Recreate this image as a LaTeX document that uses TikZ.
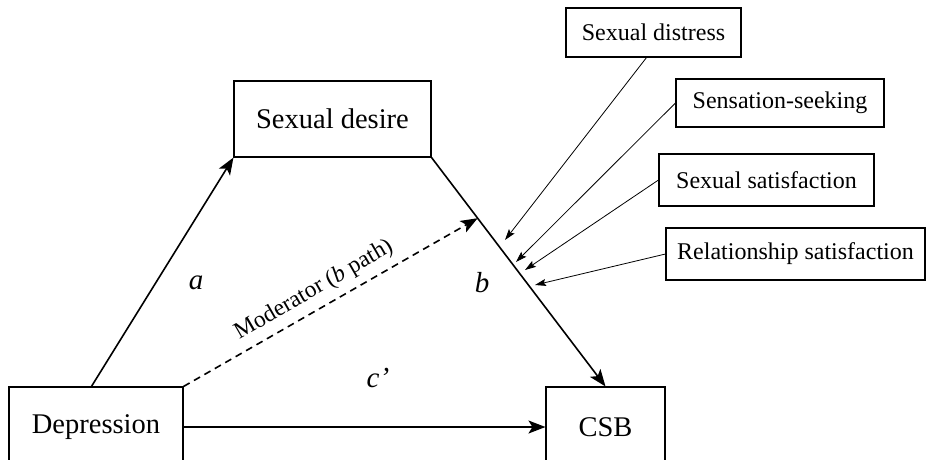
\documentclass[tikz,border=0pt]{standalone}
\usepackage{fontspec}
\setmainfont{Liberation Serif}
\usetikzlibrary{arrows.meta,calc}
\begin{document}
\begin{tikzpicture}[x=1pt,y=-1pt,
  bigbox/.style={draw,line width=1.1pt,inner sep=0pt,font=\fontsize{28.5}{30}\selectfont},
  smallbox/.style={draw,line width=1.1pt,inner sep=0pt,font=\fontsize{24}{26}\selectfont},
  mainarrow/.style={line width=1.6pt,-{Stealth[length=17pt,width=13pt,inset=4pt]}},
  modarrow/.style={line width=0.8pt,-{Stealth[length=11pt,width=7pt,inset=2pt]}},
  lbl/.style={font=\fontsize{29}{30}\selectfont\itshape}]
\clip (0,0) rectangle (928,459);
\fill[white] (0,0) rectangle (928,459);
% main boxes
\node[bigbox,minimum width=174pt,minimum height=80pt] (dep) at (96,427) {Depression};
\node[bigbox,minimum width=119pt,minimum height=80pt] (csb) at (605.5,427) {CSB};
\node[bigbox,minimum width=197pt,minimum height=76pt] (des) at (332.5,119) {Sexual desire};
% moderator boxes
\node[smallbox,minimum width=175pt,minimum height=49pt] (sdis) at (653.5,32.5) {Sexual distress};
\node[smallbox,minimum width=208pt,minimum height=48pt] (sens) at (780,103) {Sensation-seeking};
\node[smallbox,minimum width=215pt,minimum height=52pt] (ssat) at (766.5,180) {Sexual satisfaction};
\node[smallbox,minimum width=259pt,minimum height=52pt] (rsat) at (795.5,254) {Relationship satisfaction};
% coordinates
\coordinate (astart) at ($(dep.north west)+(83,0)$);
\coordinate (mtip) at ($(des.south east)!0.265!(csb.north)$);
\coordinate (t1) at (505,240);
\coordinate (t2) at (516,262);
\coordinate (t3) at (525,270);
\coordinate (t4) at (535,285);
% main arrows
\draw[mainarrow] (astart) -- (des.south west);
\draw[mainarrow] (des.south east) -- (csb.north);
\draw[mainarrow] (dep.east) -- (csb.west);
\draw[mainarrow,dashed,dash pattern=on 7pt off 5pt] (dep.north east) -- (mtip);
% moderator arrows
\draw[modarrow] ([xshift=-7pt]sdis.south) -- (t1);
\draw[modarrow] (sens.west) -- (t2);
\draw[modarrow] (ssat.west) -- (t3);
\draw[modarrow] (rsat.west) -- (t4);
% labels
\node[lbl] (la) at (196,283) {a};
\node[lbl] (lb) at (482,283) {b};
\node[lbl] (lc) at (378,378) {c’};
\node[font=\fontsize{23.5}{25}\selectfont,rotate=30] (lm) at (314,290) {Moderator (\textit{b} path)};
\end{tikzpicture}
\end{document}
